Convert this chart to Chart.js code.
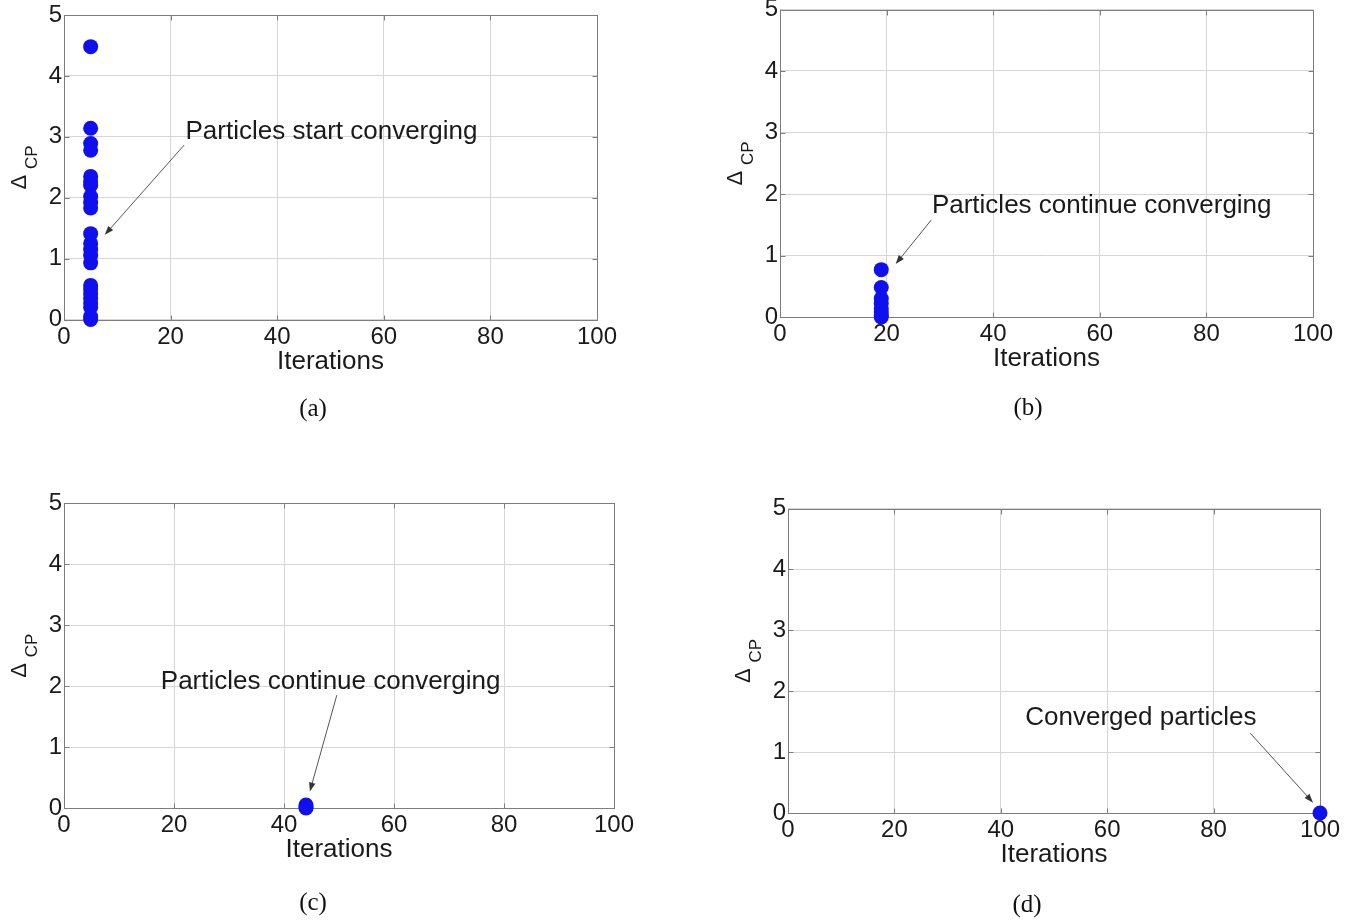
<!DOCTYPE html>
<html>
<head>
<meta charset="utf-8">
<script src="https://cdn.jsdelivr.net/npm/chart.js@4.4.1/dist/chart.umd.min.js"></script>
<style>
  html, body { margin: 0; padding: 0; background: #fff; }
  #wrap { position: relative; width: 1363px; height: 924px; overflow: hidden; }
  #wrap canvas { position: absolute; left: 0; top: 0; }
  .cap {
    position: absolute; transform: translate(-50%, -50%);
    font-family: "Liberation Serif", "Times New Roman", serif;
    font-size: 25px; line-height: 1; color: #111; white-space: nowrap;
  }
</style>
</head>
<body>
<div id="wrap">
  <canvas id="pa" width="1363" height="924"></canvas>
  <canvas id="pb" width="1363" height="924"></canvas>
  <canvas id="pc" width="1363" height="924"></canvas>
  <canvas id="pd" width="1363" height="924"></canvas>
  <div class="cap" style="left:313px;top:407px">(a)</div>
  <div class="cap" style="left:1028px;top:406px">(b)</div>
  <div class="cap" style="left:313px;top:901px">(c)</div>
  <div class="cap" style="left:1027px;top:903px">(d)</div>
</div>
<script>
// ── DATA ──────────────────────────────────────────────────────────────────────
const X_TICKS = [0, 20, 40, 60, 80, 100];
const Y_TICKS = [0, 1, 2, 3, 4, 5];
const X_TITLE = 'Iterations';

// (a) iteration 5
const iterA  = 5;
const deltaA = [4.48, 3.14, 2.89, 2.78, 2.35, 2.26, 2.2, 2.02, 1.92, 1.83,
                1.41, 1.25, 1.15, 1.05, 0.93, 0.56, 0.5, 0.42, 0.35, 0.27, 0.2, 0.05, 0];
// (b) iteration 19
const iterB  = 19;
const deltaB = [0.77, 0.48, 0.3, 0.22, 0.14, 0.08, 0.03, 0];
// (c) iteration 44
const iterC  = 44;
const deltaC = [0.05, 0.02, 0];
// (d) iteration 100
const iterD  = 100;
const deltaD = [0];

// annotations: text anchor + arrow, in data units
const noteA = { text: 'Particles start converging',    at: [22.8, 2.96], from: [22.55, 2.865], to: [7.65, 1.39] };
const noteB = { text: 'Particles continue converging', at: [28.5, 1.69], from: [28.4, 1.58],   to: [21.7, 0.86] };
const noteC = { text: 'Particles continue converging', at: [17.6, 1.95], from: [49.6, 1.85],   to: [44.7, 0.27] };
const noteD = { text: 'Converged particles',           at: [44.6, 1.45], from: [86.9, 1.31],   to: [98.7, 0.17] };

// ── STYLE ─────────────────────────────────────────────────────────────────────
const SANS       = '"Liberation Sans", Arial, Helvetica, sans-serif';
const TEXT_COLOR = '#1a1a1a';
const AXIS_COLOR = '#7d7d7d';
const GRID_COLOR = '#d6d6d6';
const DOT_COLOR  = '#1010ee';
const Y_AXIS_W   = 44;
const X_AXIS_H   = 57.5;

// plot boxes [left, top, right, bottom] in page pixels
const PANELS = [
  { id: 'pa', box: [64, 15, 597, 319.5],  iter: iterA, delta: deltaA, note: noteA },
  { id: 'pb', box: [780, 9.5, 1313, 317], iter: iterB, delta: deltaB, note: noteB },
  { id: 'pc', box: [64, 503, 614, 808],   iter: iterC, delta: deltaC, note: noteC },
  { id: 'pd', box: [788, 508.5, 1320, 813], iter: iterD, delta: deltaD, note: noteD }
];

// ── PLUGINS ───────────────────────────────────────────────────────────────────
// closed box + inward tick marks, MATLAB style
const boxPlugin = {
  id: 'matlabBox',
  beforeDatasetsDraw(chart) {
    const { ctx, chartArea: a, scales: { x, y } } = chart;
    const L = Math.round(a.left) + 0.5, R = Math.round(a.right) + 0.5;
    const T = Math.round(a.top) + 0.5,  B = Math.round(a.bottom) + 0.5;
    ctx.save();
    ctx.strokeStyle = AXIS_COLOR;
    ctx.lineWidth = 1;
    ctx.strokeRect(L, T, R - L, B - T);
    ctx.beginPath();
    x.ticks.forEach(t => {
      const px = Math.round(x.getPixelForValue(t.value)) + 0.5;
      ctx.moveTo(px, B); ctx.lineTo(px, B - 5);
      ctx.moveTo(px, T); ctx.lineTo(px, T + 5);
    });
    y.ticks.forEach(t => {
      const py = Math.round(y.getPixelForValue(t.value)) + 0.5;
      ctx.moveTo(L, py); ctx.lineTo(L + 5, py);
      ctx.moveTo(R, py); ctx.lineTo(R - 5, py);
    });
    ctx.stroke();
    ctx.restore();
  }
};

// rotated Δ_CP axis label
const yTitlePlugin = {
  id: 'yTitle',
  afterDraw(chart) {
    const { ctx, chartArea: a } = chart;
    const cx = a.left - 44.5, cy = (a.top + a.bottom) / 2;
    ctx.save();
    ctx.translate(cx, cy);
    ctx.rotate(-Math.PI / 2);
    ctx.fillStyle = TEXT_COLOR;
    ctx.textAlign = 'center';
    ctx.textBaseline = 'middle';
    ctx.font = '22px ' + SANS;
    ctx.fillText('Δ', -15, 0);
    ctx.font = '17px ' + SANS;
    ctx.fillText('CP', 10, 13);
    ctx.restore();
  }
};

function makeNotePlugin(note) {
  return {
    id: 'note',
    afterDatasetsDraw(chart) {
      const { ctx, scales: { x, y } } = chart;
      ctx.save();
      ctx.fillStyle = TEXT_COLOR;
      ctx.font = '26px ' + SANS;
      ctx.textAlign = 'left';
      ctx.textBaseline = 'alphabetic';
      ctx.fillText(note.text, x.getPixelForValue(note.at[0]), y.getPixelForValue(note.at[1]));

      const x1 = x.getPixelForValue(note.from[0]), y1 = y.getPixelForValue(note.from[1]);
      const x2 = x.getPixelForValue(note.to[0]),   y2 = y.getPixelForValue(note.to[1]);
      const ang = Math.atan2(y2 - y1, x2 - x1);
      const hl = 9, hw = 3.2;
      ctx.strokeStyle = '#555';
      ctx.lineWidth = 1;
      ctx.beginPath();
      ctx.moveTo(x1, y1);
      ctx.lineTo(x2 - Math.cos(ang) * hl * 0.6, y2 - Math.sin(ang) * hl * 0.6);
      ctx.stroke();
      ctx.fillStyle = '#333';
      ctx.beginPath();
      ctx.moveTo(x2, y2);
      ctx.lineTo(x2 - Math.cos(ang) * hl - Math.sin(ang) * hw, y2 - Math.sin(ang) * hl + Math.cos(ang) * hw);
      ctx.lineTo(x2 - Math.cos(ang) * hl + Math.sin(ang) * hw, y2 - Math.sin(ang) * hl - Math.cos(ang) * hw);
      ctx.closePath();
      ctx.fill();
      ctx.restore();
    }
  };
}

// ── CHARTS ────────────────────────────────────────────────────────────────────
function makePanel(p) {
  const [l, t, r, b] = p.box;
  const canvas = document.getElementById(p.id);
  return new Chart(canvas.getContext('2d'), {
    type: 'scatter',
    data: {
      datasets: [{
        data: p.delta.map(v => ({ x: p.iter, y: v })),
        backgroundColor: DOT_COLOR,
        borderWidth: 0,
        pointRadius: 7.5,
        pointHoverRadius: 7.5,
        clip: false
      }]
    },
    options: {
      responsive: false,
      animation: false,
      events: [],
      layout: {
        padding: { left: l - Y_AXIS_W, top: t, right: canvas.width - r, bottom: canvas.height - b - X_AXIS_H }
      },
      plugins: { legend: { display: false }, tooltip: { enabled: false } },
      scales: {
        x: {
          type: 'linear', min: 0, max: 100,
          afterBuildTicks: s => { s.ticks = X_TICKS.map(v => ({ value: v })); },
          afterFit: s => { s.height = X_AXIS_H; s.paddingLeft = 0; s.paddingRight = 0; },
          ticks: { font: { family: SANS, size: 24 }, color: TEXT_COLOR, padding: 3, maxRotation: 0, autoSkip: false },
          grid: { color: GRID_COLOR, lineWidth: 1, drawTicks: false },
          border: { display: false },
          title: { display: true, text: X_TITLE, color: TEXT_COLOR, font: { family: SANS, size: 26 }, padding: 0 }
        },
        y: {
          type: 'linear', min: 0, max: 5,
          afterBuildTicks: s => { s.ticks = Y_TICKS.map(v => ({ value: v })); },
          afterFit: s => { s.width = Y_AXIS_W; s.paddingTop = 0; s.paddingBottom = 0; },
          ticks: { font: { family: SANS, size: 24 }, color: TEXT_COLOR, padding: 2 },
          grid: { color: GRID_COLOR, lineWidth: 1, drawTicks: false },
          border: { display: false }
        }
      }
    },
    plugins: [boxPlugin, yTitlePlugin, makeNotePlugin(p.note)]
  });
}

PANELS.forEach(makePanel);
</script>
</body>
</html>
